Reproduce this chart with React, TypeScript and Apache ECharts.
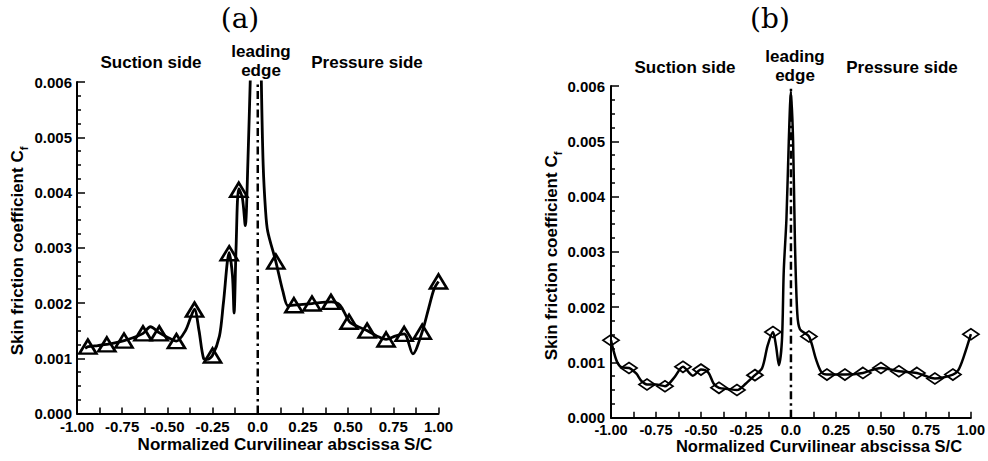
import React, { useEffect, useRef } from 'react';
import * as echarts from 'echarts';

// ---- tick labels ----
const xTickValues = [-1, -0.75, -0.5, -0.25, 0, 0.25, 0.5, 0.75, 1];
const xTickLabels = ['-1.00', '-0.75', '-0.50', '-0.25', '0.0', '0.25', '0.50', '0.75', '1.00'];
const yTickLabels = ['0.000', '0.001', '0.002', '0.003', '0.004', '0.005', '0.006'];

// ---- panel (a): skin friction curve ----
const curveAX = [-0.955, -0.938, -0.885, -0.835, -0.79, -0.739, -0.69, -0.634, -0.594, -0.544, -0.5, -0.45, -0.4, -0.37, -0.35, -0.325, -0.3, -0.28, -0.251, -0.212, -0.19, -0.158, -0.14, -0.131, -0.12, -0.105, -0.085, -0.069, -0.055, -0.04, -0.01, 0.01, 0.02, 0.03, 0.043, 0.055, 0.1, 0.14, 0.167, 0.2, 0.3, 0.407, 0.455, 0.508, 0.555, 0.606, 0.66, 0.71, 0.76, 0.81, 0.858, 0.91, 0.945, 0.975, 1.0];
const curveAY = [0.00118, 0.00121, 0.00123, 0.00125, 0.00128, 0.00132, 0.00137, 0.00145, 0.00157, 0.00146, 0.00138, 0.00131, 0.0015, 0.00175, 0.00189, 0.0015, 0.001, 0.00098, 0.00105, 0.0014, 0.002, 0.00291, 0.0025, 0.00182, 0.003, 0.00407, 0.0039, 0.0034, 0.0045, 0.0062, 0.0095, 0.0085, 0.006, 0.0045, 0.00368, 0.0033, 0.00275, 0.0022, 0.00195, 0.00196, 0.00199, 0.00202, 0.00196, 0.00166, 0.00157, 0.0015, 0.0014, 0.00134, 0.0014, 0.00144, 0.00108, 0.00148, 0.0019, 0.00225, 0.00239];
// triangle markers
const markAX = [-0.94, -0.835, -0.74, -0.635, -0.545, -0.45, -0.35, -0.25, -0.158, -0.105, 0.1, 0.2, 0.3, 0.405, 0.505, 0.605, 0.71, 0.81, 0.91, 1.0];
const markAY = [0.00121, 0.00125, 0.00132, 0.00145, 0.00145, 0.00131, 0.00188, 0.00105, 0.0029, 0.00405, 0.00275, 0.00196, 0.00199, 0.00202, 0.00166, 0.0015, 0.00134, 0.00144, 0.00148, 0.00239];

// ---- panel (b): skin friction curve ----
const curveBX = [-1.0, -0.985, -0.965, -0.94, -0.9, -0.86, -0.83, -0.8, -0.75, -0.7, -0.65, -0.6, -0.545, -0.5, -0.46, -0.43, -0.4, -0.35, -0.3, -0.25, -0.2, -0.16, -0.13, -0.1, -0.083, -0.067, -0.05, -0.04, -0.025, -0.012, 0.0, 0.012, 0.022, 0.035, 0.05, 0.1, 0.14, 0.17, 0.2, 0.3, 0.4, 0.5, 0.6, 0.7, 0.8, 0.9, 0.93, 0.96, 1.0];
const curveBY = [0.0014, 0.0012, 0.001, 0.00091, 0.0009, 0.0008, 0.00066, 0.0006, 0.0006, 0.00057, 0.00072, 0.00092, 0.00076, 0.00087, 0.00082, 0.00062, 0.00054, 0.00052, 0.0005, 0.00062, 0.00077, 0.0009, 0.0013, 0.00155, 0.0013, 0.00095, 0.0014, 0.00265, 0.0036, 0.005, 0.0059, 0.005, 0.0032, 0.0019, 0.0016, 0.00147, 0.00105, 0.00082, 0.00078, 0.00078, 0.00081, 0.0009, 0.00084, 0.00081, 0.00071, 0.00078, 0.00086, 0.0011, 0.00151];
// diamond markers
const markBX = [-1.0, -0.9, -0.8, -0.7, -0.6, -0.5, -0.4, -0.3, -0.2, -0.1, 0.1, 0.2, 0.3, 0.4, 0.5, 0.6, 0.7, 0.8, 0.9, 1.0];
const markBY = [0.0014, 0.0009, 0.0006, 0.00057, 0.00092, 0.00087, 0.00054, 0.0005, 0.00077, 0.00155, 0.00147, 0.00078, 0.00078, 0.00081, 0.0009, 0.00084, 0.00081, 0.00071, 0.00078, 0.00151];

// leading edge reference line (x = 0, from 0 to top of axis)
const leadingEdgeX = [0, 0];
const leadingEdgeY = [0, 0.006];

// ---- texts ----
const panelTitles = ['(a)', '(b)'];
const regionLabels = ['Suction side', 'leading\nedge', 'Pressure side'];
const xAxisName = 'Normalized Curvilinear abscissa S/C';
const yAxisName = 'Skin friction coefficient C';
const yAxisSub = 'f';

const SANS = 'Liberation Sans, Arial, sans-serif';

const zip = (xs: number[], ys: number[]) => xs.map((x, i) => [x, ys[i]]);

const xFormatter = (v: number) => {
  const i = xTickValues.findIndex((t) => Math.abs(t - v) < 1e-9);
  return i >= 0 ? xTickLabels[i] : '';
};
const yFormatter = (v: number) => yTickLabels[Math.round(v / 0.001)] ?? '';

function makeXAxis(gridIndex: number, margin: number, fontSize: number) {
  return {
    type: 'value',
    gridIndex,
    min: -1,
    max: 1,
    interval: 0.25,
    axisLine: { show: true, onZero: false, lineStyle: { color: '#000', width: 2 } },
    axisTick: { show: true, inside: true, length: 6, lineStyle: { color: '#000', width: 1.5 } },
    minorTick: { show: true, splitNumber: 2, length: 6, lineStyle: { color: '#000', width: 1.5 } },
    splitLine: { show: false },
    minorSplitLine: { show: false },
    axisLabel: {
      show: true,
      margin,
      color: '#000',
      fontFamily: SANS,
      fontWeight: 'bold',
      fontSize,
      lineHeight: 13,
      formatter: xFormatter,
      showMinLabel: true,
      showMaxLabel: true,
      hideOverlap: false,
    },
  };
}

function makeYAxis(gridIndex: number, margin: number) {
  return {
    type: 'value',
    gridIndex,
    min: 0,
    max: 0.006,
    interval: 0.001,
    axisLine: { show: true, onZero: false, lineStyle: { color: '#000', width: 2 } },
    axisTick: { show: true, inside: true, length: 8, lineStyle: { color: '#000', width: 1.5 } },
    minorTick: { show: true, splitNumber: 4, length: 4, lineStyle: { color: '#000', width: 1.5 } },
    splitLine: { show: false },
    minorSplitLine: { show: false },
    axisLabel: {
      show: true,
      margin,
      color: '#000',
      fontFamily: SANS,
      fontWeight: 'bold',
      fontSize: 15,
      lineHeight: 10,
      formatter: yFormatter,
    },
  };
}

function textEl(x: number, y: number, text: string, fontSize: number, extra: any = {}) {
  return {
    type: 'text',
    x,
    y,
    silent: true,
    style: {
      text,
      fill: '#000',
      fontFamily: SANS,
      fontWeight: 'bold',
      fontSize,
      align: 'center',
      verticalAlign: 'middle',
      textAlign: 'center',
      textVerticalAlign: 'middle',
      ...extra,
    },
  };
}

function yNameEl(x: number, y: number) {
  return {
    type: 'text',
    x,
    y,
    rotation: Math.PI / 2,
    silent: true,
    style: {
      text: yAxisName + '{s|' + yAxisSub + '}',
      fill: '#000',
      fontFamily: SANS,
      fontWeight: 'bold',
      fontSize: 17,
      lineHeight: 24,
      align: 'center',
      verticalAlign: 'middle',
      textAlign: 'center',
      textVerticalAlign: 'middle',
      rich: {
        s: {
          fontFamily: SANS,
          fontWeight: 'bold',
          fontSize: 11,
          fill: '#000',
          verticalAlign: 'bottom',
          lineHeight: 12,
          padding: [10, 0, 0, 0],
        },
      },
    },
  };
}

export default function App() {
  const ref = useRef<HTMLDivElement>(null);

  useEffect(() => {
    if (!ref.current) return;
    const chart = echarts.init(ref.current, undefined, { renderer: 'svg' });

    const curveStyleA = { color: '#000', width: 2.8 };
    const curveStyleB = { color: '#000', width: 2.5 };
    const dashDot = { color: '#000', width: 2.5, type: [8, 4, 2.5, 4] };
    const serif = { fontFamily: 'DejaVu Serif, Liberation Serif, serif', fontWeight: 'normal' };

    const option: any = {
      animation: false,
      backgroundColor: '#fff',
      grid: [
        { left: 77, top: 82, width: 361.5, height: 331.5, containLabel: false },
        { left: 611, top: 86, width: 362, height: 331.7, containLabel: false },
      ],
      xAxis: [makeXAxis(0, 6, 15), makeXAxis(1, 5.5, 14.5)],
      yAxis: [makeYAxis(0, 5), makeYAxis(1, 6)],
      series: [
        {
          type: 'line',
          xAxisIndex: 0,
          yAxisIndex: 0,
          data: zip(leadingEdgeX, leadingEdgeY),
          showSymbol: false,
          symbol: 'none',
          lineStyle: dashDot,
          silent: true,
        },
        {
          type: 'line',
          xAxisIndex: 0,
          yAxisIndex: 0,
          data: zip(curveAX, curveAY),
          smooth: 0.3,
          showSymbol: false,
          symbol: 'none',
          clip: true,
          lineStyle: curveStyleA,
          silent: true,
        },
        {
          type: 'scatter',
          xAxisIndex: 0,
          yAxisIndex: 0,
          data: zip(markAX, markAY),
          symbol: 'triangle',
          symbolSize: [17, 14],
          clip: false,
          itemStyle: { color: 'transparent', borderColor: '#000', borderWidth: 2.6, opacity: 1 },
          silent: true,
        },
        {
          type: 'line',
          xAxisIndex: 1,
          yAxisIndex: 1,
          data: zip(leadingEdgeX, leadingEdgeY),
          showSymbol: false,
          symbol: 'none',
          lineStyle: dashDot,
          silent: true,
        },
        {
          type: 'line',
          xAxisIndex: 1,
          yAxisIndex: 1,
          data: zip(curveBX, curveBY),
          smooth: 0.3,
          showSymbol: false,
          symbol: 'none',
          clip: true,
          lineStyle: curveStyleB,
          silent: true,
        },
        {
          type: 'scatter',
          xAxisIndex: 1,
          yAxisIndex: 1,
          data: zip(markBX, markBY),
          symbol: 'diamond',
          symbolSize: [16, 11],
          clip: false,
          itemStyle: { color: 'transparent', borderColor: '#000', borderWidth: 1.8, opacity: 1 },
          silent: true,
        },
      ],
      graphic: {
        elements: [
          textEl(240, 18, panelTitles[0], 28, serif),
          textEl(770, 18, panelTitles[1], 28, serif),
          textEl(151, 62, regionLabels[0], 17),
          textEl(261, 61, regionLabels[1], 17, { lineHeight: 19 }),
          textEl(367, 62, regionLabels[2], 17),
          textEl(685, 67, regionLabels[0], 17),
          textEl(795, 66, regionLabels[1], 17, { lineHeight: 19 }),
          textEl(902, 67, regionLabels[2], 17),
          textEl(285, 444, xAxisName, 17, { lineHeight: 14 }),
          textEl(819, 446, xAxisName, 16.5, { lineHeight: 13 }),
          yNameEl(17, 251),
          yNameEl(551, 256),
        ],
      },
    };

    chart.setOption(option);
    return () => chart.dispose();
  }, []);

  return (
    <div
      ref={ref}
      style={{ position: 'absolute', left: 0, top: 0, width: 988, height: 461, background: '#fff' }}
    />
  );
}
